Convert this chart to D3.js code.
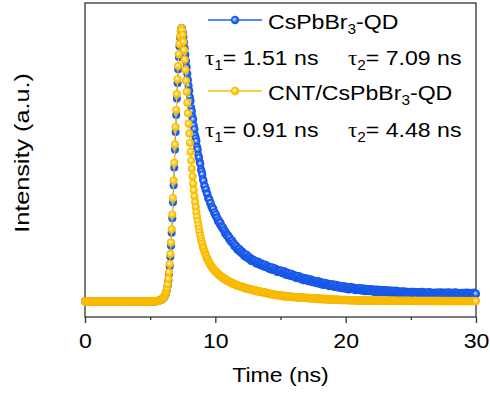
<!DOCTYPE html>
<meta charset="utf-8">

<style>

body {
  margin: 0;
  background: #fff;
}

svg text {
  font-family: "Liberation Sans", Arial, sans-serif;
  font-size: 21px;
  fill: #000;
}

svg text .greek {
  font-family: "Liberation Serif", "Times New Roman", serif;
}

</style>

<svg class="chart" width="490" height="396"></svg>

<script src="https://d3js.org/d3.v7.min.js"></script>

<script>

// TRPL decays, normalised counts (peak = 1000), one sample every 0.05 ns from 0 ns
var dt = 0.05;

var cspbbr3 = [
  6,5,5,4,6,5,7,5,5,6,4,5,6,5,7,5,4,6,5,6,
  5,6,4,5,6,7,5,4,6,5,6,5,5,7,5,6,4,5,6,5,
  6,4,5,6,5,6,7,5,5,4,6,5,7,5,6,5,4,6,5,6,
  4,6,5,5,7,5,6,4,6,5,5,6,5,7,4,5,6,5,6,5,
  5,6,5,7,4,6,5,5,6,5,7,4,6,5,6,5,5,6,4,6,
  5,6,5,7,5,6,5,6,7,6,7,6,8,8,9,10,11,12,13,15,
  17,20,23,28,33,41,51,64,82,105,134,168,208,255,308,366,428,493,558,622,
  684,744,800,850,895,934,965,987,1000,997,985,968,948,926,903,880,857,834,811,790,
  772,748,735,709,697,676,667,645,632,609,599,588,567,558,537,528,513,506,485,478,
  467,450,444,427,424,412,412,399,395,381,379,376,364,363,350,349,341,342,329,329,
  319,321,311,309,297,301,294,286,291,280,279,271,274,265,264,253,257,250,244,247,
  243,234,237,226,228,221,226,217,217,207,209,210,201,204,194,197,192,196,186,189,
  182,187,180,181,172,178,173,167,175,166,167,161,167,160,162,153,160,155,152,156,
  154,148,153,144,148,143,150,143,145,137,141,144,137,141,133,137,134,139,130,134,
  128,134,128,130,123,130,126,121,129,121,123,119,125,119,121,113,120,117,114,119,
  117,112,117,108,112,107,115,108,110,102,106,110,103,107,99,103,101,106,97,101,
  96,102,96,99,91,98,94,90,98,90,93,88,94,89,91,83,91,87,84,90,
  88,82,88,79,84,79,86,80,82,75,79,82,76,80,73,77,75,80,71,76,
  70,77,71,74,66,74,70,66,74,67,69,65,71,66,68,61,68,65,62,68,
  66,61,67,58,63,58,66,60,62,55,59,63,57,61,54,58,56,62,53,58,
  53,59,54,57,49,57,54,50,58,51,54,50,56,51,54,46,54,51,49,54,
  53,48,54,45,50,46,54,47,50,43,48,52,45,50,43,48,45,51,43,48,
  43,50,44,47,40,48,45,40,49,42,45,41,48,42,45,38,46,43,41,46,
  45,40,46,38,43,38,46,40,43,36,41,45,38,43,36,41,39,45,37,41,
  36,43,38,41,34,42,39,34,43,36,39,35,42,37,40,32,40,37,35,41,
  40,35,41,33,38,34,41,35,38,31,36,40,34,39,32,37,35,41,32,37,
  32,39,34,37,30,38,35,31,40,33,35,31,38,33,36,29,37,34,32,38,
  37,32,38,30,35,31,39,33,36,29,34,38,32,37,30,35,33,39,31,36,
  31,38,33,36,29,37,34,30,39,32,34,30,37,32,35,28,36,33,31,37,
  36,31,37,29,34,30,38,32,35,28,33,37,31,36,29,34,32,38,30,35,
  33
];

var cntCspbbr3 = [
  5,6,4,5,7,5,6,4,6,5,5,7,4,6,5,6,5,4,6,5,
  6,5,5,7,4,5,6,5,6,4,5,6,7,5,4,6,5,5,6,4,
  5,6,5,4,6,7,5,5,4,6,5,6,5,7,4,5,6,5,4,6,
  5,5,6,4,6,5,7,5,4,5,6,5,6,4,5,7,5,6,5,4,
  6,5,4,6,5,6,5,7,5,4,6,5,5,6,4,6,5,7,5,5,
  6,4,5,6,5,7,6,5,6,7,6,7,7,8,9,10,11,12,14,16,
  18,21,24,29,35,43,54,68,88,112,142,178,220,268,322,382,445,510,576,640,
  702,760,814,862,905,942,970,990,1000,992,975,950,920,885,848,808,768,728,690,652,
  616,582,550,518,488,460,434,410,388,367,348,330,313,298,283,270,257,245,234,224,
  215,204,198,188,183,175,171,163,160,153,150,144,142,136,134,129,128,123,122,117,
  117,112,112,108,107,103,103,99,99,95,95,91,92,88,89,85,86,82,83,79,
  80,77,78,74,75,72,73,70,71,68,69,66,67,64,65,62,63,61,62,59,
  60,57,59,56,57,54,56,53,54,52,53,50,52,49,50,48,49,47,48,45,
  47,44,46,43,45,42,44,41,43,40,42,39,41,38,40,37,39,37,38,36,
  36,34,35,33,34,32,33,31,32,30,32,29,31,28,30,28,29,27,29,26,
  28,26,27,25,27,24,26,24,26,23,25,23,25,22,24,22,24,21,23,21,
  23,21,23,20,22,20,22,20,21,19,21,19,21,18,20,18,20,18,20,17,
  19,17,19,17,19,16,18,16,18,16,18,15,17,15,17,15,17,15,16,14,
  16,14,16,14,16,14,15,13,15,13,15,13,15,13,14,12,14,12,14,12,
  14,12,14,11,13,11,13,11,13,11,13,11,12,10,12,10,12,10,12,10,
  12,10,12,10,11,9,11,9,11,9,11,9,11,9,11,9,10,8,10,8,
  10,8,10,8,10,8,10,8,10,8,10,8,9,8,10,8,9,8,10,8,
  9,8,10,8,9,8,9,7,9,8,10,8,9,7,9,8,9,8,9,7,
  9,8,9,7,9,8,9,7,9,7,9,8,9,7,9,7,8,7,9,7,
  8,7,9,7,8,7,9,7,8,7,9,7,8,6,8,7,9,7,8,7,
  8,7,8,6,8,7,9,7,8,6,8,7,8,6,8,7,8,6,8,7,
  8,6,8,7,8,6,8,7,8,6,8,7,8,6,8,6,8,7,8,6,
  8,6,8,7,8,6,7,6,8,7,8,6,7,6,8,6,8,6,7,6,
  8,6,7,6,8,6,7,6,8,6,7,6,8,6,7,6,7,6,8,6,
  7,6,8,6,7,6,7,6,8,6,7,6,7,6,7,6,8,6,7,6,
  7
];

var seriesNames = ["CsPbBr|3|-QD", "CNT/CsPbBr|3|-QD"];
var tau1 = ["1.51", "0.91"];
var tau2 = ["7.09", "4.48"];
var xTicks = [0, 10, 20, 30];
var xMinorTicks = [5, 15, 25];

var svg = d3.select("svg.chart");

var x = d3.scaleLinear().domain([0, 30]).range([85, 476]);
var y = d3.scaleLinear().domain([-51, 1091]).range([317, 3]);

// shaded "ball" markers
var defs = svg.append("defs");
function ballGradient(id, stops) {
  var g = defs.append("radialGradient")
    .attr("id", id)
    .attr("fx", "40%")
    .attr("fy", "38%");
  stops.forEach(function(s) {
    g.append("stop").attr("offset", s[0]).attr("stop-color", s[1]);
  });
}
ballGradient("ballBlue", [[0, "#ffffff"], [0.28, "#82adff"], [0.62, "#1e62f4"], [1, "#1552e2"]]);
ballGradient("ballYellow", [[0, "#fffbe0"], [0.3, "#ffe27a"], [0.68, "#ffc200"], [1, "#f6b700"]]);

var series = [
  {values: cspbbr3, color: "#1e62f4", fill: "url(#ballBlue)"},
  {values: cntCspbbr3, color: "#ffc200", fill: "url(#ballYellow)"}
];

// frame
svg.append("rect")
  .attr("x", x(0))
  .attr("y", y.range()[1])
  .attr("width", x(30) - x(0))
  .attr("height", y.range()[0] - y.range()[1])
  .attr("fill", "none")
  .attr("stroke", "#333")
  .attr("stroke-width", 1.3);

// x axis
var xAxis = svg.append("g")
  .attr("transform", "translate(0," + y.range()[0] + ")")
  .call(d3.axisBottom(x).tickValues(xTicks).tickSize(6).tickPadding(10));
xAxis.append("g")
  .call(d3.axisBottom(x).tickValues(xMinorTicks).tickSize(3).tickFormat(""));
xAxis.selectAll(".domain").remove();
xAxis.attr("font-size", null).attr("font-family", null);
xAxis.selectAll(".tick line").attr("stroke", "#333").attr("stroke-width", 1.3);
xAxis.selectAll(".tick text").attr("transform", "scale(1.1,1)");

// data
var line = d3.line()
  .x(function(d, i) { return x(i * dt); })
  .y(function(d) { return y(d); });

series.forEach(function(s) {
  svg.append("path")
    .datum(s.values)
    .attr("fill", "none")
    .attr("stroke", s.color)
    .attr("stroke-width", 1.1)
    .attr("d", line);

  svg.append("g").selectAll("circle")
    .data(s.values)
    .join("circle")
      .attr("cx", function(d, i) { return x(i * dt); })
      .attr("cy", function(d) { return y(d); })
      .attr("r", 4)
      .attr("fill", s.fill);
});

// axis titles
svg.append("text")
  .attr("transform", "translate(" + (x(0) + x(30)) / 2 + ",382) scale(1.1,1)")
  .attr("text-anchor", "middle")
  .text("Time (ns)");

svg.append("text")
  .attr("transform", "translate(29,153) rotate(-90) scale(1.2,1)")
  .attr("text-anchor", "middle")
  .attr("font-size", 22)
  .text("Intensity (a.u.)");

// legend
var legendRows = [20, 91];
var tauRows = [65, 137];

series.forEach(function(s, k) {
  var ly = legendRows[k];
  var lg = svg.append("g");
  lg.append("line")
    .attr("x1", 208).attr("x2", 262)
    .attr("y1", ly).attr("y2", ly)
    .attr("stroke", s.color)
    .attr("stroke-width", 1.3);
  lg.append("circle")
    .attr("cx", 235).attr("cy", ly)
    .attr("r", 4.2)
    .attr("fill", s.fill);

  var parts = seriesNames[k].split("|");
  var t = lg.append("text")
    .attr("transform", "translate(268," + (ly + 9) + ") scale(1.1,1)");
  t.append("tspan").text(parts[0]);
  t.append("tspan").attr("dy", 5).attr("font-size", 14).text(parts[1]);
  t.append("tspan").attr("dy", -5).text(parts[2]);

  [[205, tau1[k], "1"], [348, tau2[k], "2"]].forEach(function(p) {
    var tt = svg.append("text")
      .attr("transform", "translate(" + p[0] + "," + tauRows[k] + ") scale(1.1,1)");
    tt.append("tspan").attr("class", "greek").text("τ");
    tt.append("tspan").attr("dy", 5).attr("font-size", 14).text(p[2]);
    tt.append("tspan").attr("dy", -5).text("= " + p[1] + " ns");
  });
});

</script>
